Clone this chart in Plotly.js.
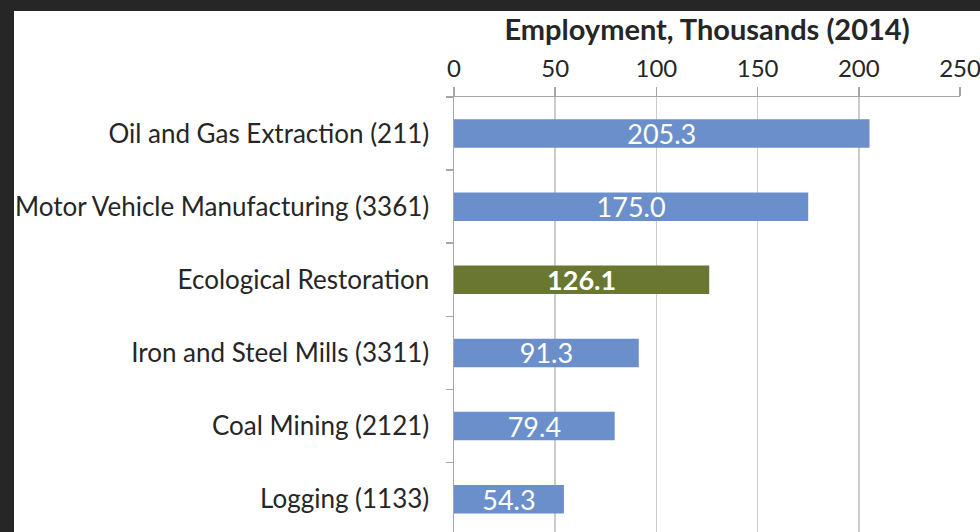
<!DOCTYPE html>
<html>
<head>
<meta charset="utf-8">
<script src="https://cdn.plot.ly/plotly-3.0.1.min.js"></script>
<style>
  html, body { margin: 0; padding: 0; background: #262626; width: 980px; height: 532px; overflow: hidden; }
  #chart { position: absolute; left: 14px; top: 11px; width: 1010px; height: 521px; background: #ffffff; }
</style>
</head>
<body>
<div id="chart"></div>
<script>
const categories = [
  "Oil and Gas Extraction (211)",
  "Motor Vehicle Manufacturing (3361)",
  "Ecological Restoration",
  "Iron and Steel Mills (3311)",
  "Coal Mining (2121)",
  "Logging (1133)"
];
const values = [205.3, 175.0, 126.1, 91.3, 79.4, 54.3];
const highlight = "Ecological Restoration";
const xTicks = [0, 50, 100, 150, 200, 250];

const baseColor = "#6b8fca";
const highlightColor = "#6a7731";

const colors = categories.map(c => c === highlight ? highlightColor : baseColor);
const labels = values.map((v, i) => categories[i] === highlight ? "<b>" + v.toFixed(1) + "</b>" : v.toFixed(1));

const FONT = "Lato, 'Open Sans', sans-serif";

const trace = {
  type: "bar",
  orientation: "h",
  y: categories,
  x: values,
  marker: { color: colors, line: { width: 0 } },
  text: labels,
  textposition: "inside",
  insidetextanchor: "middle",
  textangle: 0,
  constraintext: "none",
  textfont: { family: FONT, size: 27, color: "#ffffff" },
  cliponaxis: false,
  hoverinfo: "skip"
};

const layout = {
  width: 1010,
  height: 521,
  margin: { l: 440, r: 64, t: 86, b: 0, pad: 0 },
  paper_bgcolor: "#ffffff",
  plot_bgcolor: "#ffffff",
  showlegend: false,
  bargap: 0.61,
  font: { family: FONT, color: "#262626" },
  xaxis: {
    side: "top",
    range: [0, 250],
    tickvals: xTicks,
    ticktext: xTicks.map(String),
    ticks: "outside",
    ticklen: 9,
    tickcolor: "#a6a6a6",
    tickwidth: 1.5,
    showline: true,
    linecolor: "#a6a6a6",
    linewidth: 1.5,
    showgrid: true,
    gridcolor: "#cccccc",
    gridwidth: 1.5,
    zeroline: false,
    tickfont: { family: FONT, size: 24, color: "#262626" },
    title: {
      text: "<b>Employment, Thousands (2014)</b>",
      font: { family: FONT, size: 29, color: "#262626" },
      standoff: 6
    },
    fixedrange: true
  },
  yaxis: {
    type: "category",
    range: [5.449, -0.5],
    ticks: "outside",
    tickson: "boundaries",
    ticklen: 7,
    tickcolor: "#a6a6a6",
    tickwidth: 1.5,
    showline: true,
    linecolor: "#a6a6a6",
    linewidth: 1.5,
    showgrid: false,
    zeroline: false,
    ticklabelstandoff: 18,
    tickfont: { family: FONT, size: 26, color: "#262626" },
    fixedrange: true
  }
};

Plotly.newPlot("chart", [trace], layout, { displayModeBar: false, staticPlot: true });
</script>
</body>
</html>
